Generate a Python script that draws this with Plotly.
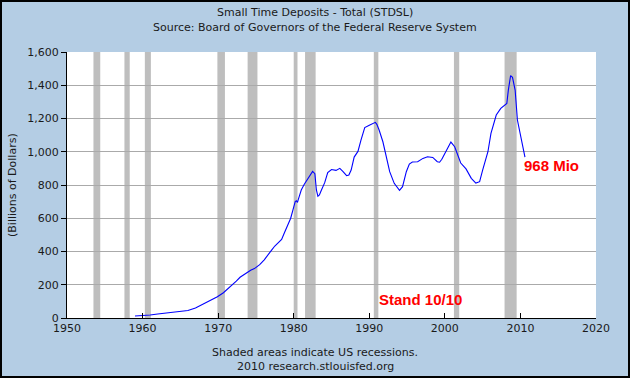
import plotly.graph_objects as go

years = [1959.0, 1960.0, 1961.0, 1962.0, 1963.0, 1964.0, 1965.0, 1966.0, 1967.0, 1967.6,
         1968.3, 1968.9, 1969.5, 1969.9, 1970.7, 1971.3, 1971.8, 1972.4, 1972.9, 1973.7,
         1974.3, 1974.8, 1975.5, 1976.1, 1976.6, 1977.1, 1977.5, 1978.0, 1978.4, 1978.7,
         1979.0, 1979.3, 1979.6, 1979.9, 1980.2, 1980.35, 1980.5, 1980.6, 1981.0, 1981.4,
         1981.7, 1982.1, 1982.5, 1982.8, 1983.0, 1983.2, 1983.4, 1983.6, 1984.1, 1984.5,
         1985.0, 1985.6, 1986.1, 1986.5, 1987.0, 1987.3, 1987.6, 1988.0, 1988.5, 1988.9,
         1989.4, 1990.0, 1990.5, 1990.8, 1991.0, 1991.3, 1991.8, 1992.2, 1992.7, 1993.3,
         1994.0, 1994.4, 1994.9, 1995.3, 1995.7, 1996.4, 1997.1, 1997.7, 1998.4, 1999.0,
         1999.3, 1999.6, 2000.2, 2000.8, 2001.3, 2001.7, 2002.1, 2002.8, 2003.5, 2004.1,
         2004.6, 2005.0, 2005.7, 2006.1, 2006.5, 2006.8, 2007.4, 2007.9, 2008.2, 2008.4,
         2008.7, 2008.95, 2009.3, 2009.6, 2010.05, 2010.3, 2010.6]
deposits = [12, 14, 18, 24, 29, 32, 36, 45, 60, 74,
            88, 102, 118, 128, 152, 175, 194, 222, 245, 272,
            287, 297, 321, 350, 377, 410, 433, 455, 473, 505,
            540, 570, 600, 650, 700, 705, 695, 712, 770, 805,
            825, 852, 882, 868, 770, 732, 740, 762, 814, 875,
            893, 888, 900, 882, 856, 860, 890, 968, 1002, 1070,
            1145, 1160, 1170, 1177, 1165, 1131, 1060, 970, 880, 810,
            768, 790, 880, 926, 938, 940, 960, 970, 966, 940,
            937, 955, 1006, 1058, 1030, 980, 932, 897, 840, 812,
            820, 890, 1000, 1111, 1180, 1221, 1261, 1281, 1291, 1371,
            1458, 1448, 1371, 1191, 1090, 1030, 968]

rec_start = [1953.5, 1957.6, 1960.3, 1969.9, 1973.9, 1980.0, 1981.5, 1990.6, 2001.2, 2007.9]
rec_end = [1954.4, 1958.3, 1961.1, 1970.9, 1975.2, 1980.5, 1982.9, 1991.2, 2001.9, 2009.5]

x_ticks = [1950, 1960, 1970, 1980, 1990, 2000, 2010, 2020]
y_ticks = [0, 200, 400, 600, 800, 1000, 1200, 1400, 1600]

W, H = 630, 378
L, R, T, B = 67, 34, 52, 60
pw, ph = W - L - R, H - T - B

def px_x(p):
    return (p - L) / pw

def px_y(p):
    return (H - B - p) / ph

FONT = "DejaVu Sans"
TXT = "#1a1a1a"

fig = go.Figure()
fig.add_trace(go.Scatter(x=years, y=deposits, mode="lines",
                         line=dict(color="#0000FF", width=1.1), hoverinfo="skip"))

shapes = []
for s, e in zip(rec_start, rec_end):
    shapes.append(dict(type="rect", xref="x", yref="paper", x0=s, x1=e, y0=0, y1=1,
                       fillcolor="#BEBEBE", line=dict(width=0), layer="between"))
shapes.append(dict(type="rect", xref="paper", yref="paper",
                   x0=px_x(1), x1=px_x(629), y0=px_y(377), y1=px_y(1),
                   line=dict(color="black", width=2), fillcolor="rgba(0,0,0,0)", layer="above"))

annotations = [
    dict(text="Small Time Deposits - Total (STDSL)", xref="paper", yref="paper",
         x=px_x(315), y=px_y(12), showarrow=False, xanchor="center", yanchor="middle",
         font=dict(family=FONT, size=11, color=TXT)),
    dict(text="Source: Board of Governors of the Federal Reserve System", xref="paper", yref="paper",
         x=px_x(315), y=px_y(27), showarrow=False, xanchor="center", yanchor="middle",
         font=dict(family=FONT, size=11, color=TXT)),
    dict(text="Shaded areas indicate US recessions.", xref="paper", yref="paper",
         x=px_x(315), y=px_y(352), showarrow=False, xanchor="center", yanchor="middle",
         font=dict(family=FONT, size=11, color=TXT)),
    dict(text="2010 research.stlouisfed.org", xref="paper", yref="paper",
         x=px_x(315), y=px_y(366), showarrow=False, xanchor="center", yanchor="middle",
         font=dict(family=FONT, size=11, color=TXT)),
    dict(text="(Billions of Dollars)", xref="paper", yref="paper", textangle=-90,
         x=px_x(12), y=px_y(185), showarrow=False, xanchor="center", yanchor="middle",
         font=dict(family=FONT, size=11, color=TXT)),
    dict(text="<b>968 Mio</b>", xref="x", yref="y", x=2010.2, y=920, showarrow=False,
         xanchor="left", yanchor="middle",
         font=dict(family="Liberation Sans", size=15, color="#FF0000")),
    dict(text="<b>Stand 10/10</b>", xref="x", yref="y", x=1991.0, y=111, showarrow=False,
         xanchor="left", yanchor="middle",
         font=dict(family="Liberation Sans", size=15, color="#FF0000")),
]

fig.update_layout(
    width=W, height=H,
    margin=dict(l=L, r=R, t=T, b=B, pad=0),
    paper_bgcolor="#B4CDE4", plot_bgcolor="white",
    showlegend=False,
    shapes=shapes, annotations=annotations,
    xaxis=dict(range=[1950, 2020], tickvals=x_ticks, ticktext=[str(v) for v in x_ticks],
               ticks="inside", ticklen=5, tickcolor="black", showgrid=False, zeroline=False,
               showline=True, linecolor="black", linewidth=1,
               tickfont=dict(family=FONT, size=11, color=TXT)),
    yaxis=dict(range=[0, 1600], tickvals=y_ticks, tickformat=",d",
               ticks="outside", ticklen=5, tickcolor="black", showgrid=True,
               gridcolor="#AAAAAA", gridwidth=1, zeroline=False,
               showline=True, linecolor="black", linewidth=1,
               tickfont=dict(family=FONT, size=11, color=TXT)),
)

fig.write_html("out.html", config={"displayModeBar": False},
               post_script="document.body.style.margin='0';document.body.style.overflow='hidden';")
